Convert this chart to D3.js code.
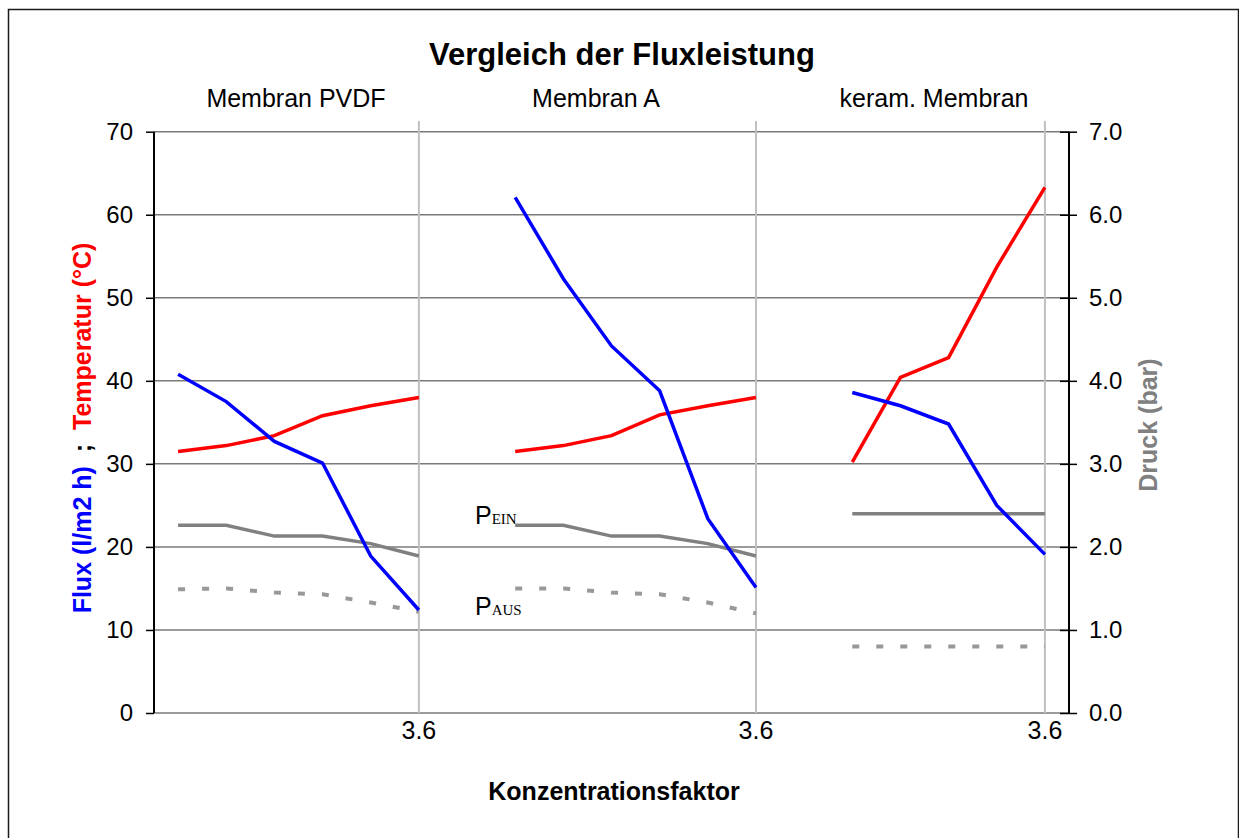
<!DOCTYPE html>
<html>
<head>
<meta charset="utf-8">
<script src="https://cdn.jsdelivr.net/npm/d3@7"></script>
<style>
  body { margin: 0; background: #fff; }
  text { font-family: Arial, "Liberation Sans", sans-serif; }
</style>
</head>
<body>
<div id="chart-area"></div>
<script>
// categories: 19 slots, empty slot between the three membranes
var categories = ["", "", "", "", "", "3.6", "",
                  "", "", "", "", "", "3.6", "",
                  "", "", "", "", "3.6"];
var groupLabels = ["Membran PVDF", "Membran A", "keram. Membran"];

// left axis (Flux, Temperatur)
var fluxValues = [40.8, 37.5, 32.7, 30.1, 18.9, 12.4, null,
                  62.1, 52.3, 44.2, 38.8, 23.4, 15.1, null,
                  38.6, 37.0, 34.8, 25.0, 19.1];
var tempValues = [31.5, 32.2, 33.4, 35.8, 37.0, 38.0, null,
                  31.5, 32.2, 33.4, 35.9, 37.0, 38.0, null,
                  30.2, 40.4, 42.8, 53.7, 63.3];
// right axis (Druck, bar)
var pEinValues = [2.26, 2.26, 2.13, 2.13, 2.04, 1.89, null,
                  2.26, 2.26, 2.13, 2.13, 2.04, 1.89, null,
                  2.4, 2.4, 2.4, 2.4, 2.4];
var pAusValues = [1.49, 1.50, 1.45, 1.43, 1.33, 1.22, null,
                  1.50, 1.50, 1.45, 1.43, 1.33, 1.20, null,
                  0.8, 0.8, 0.8, 0.8, 0.8];

var leftTicks = [0, 10, 20, 30, 40, 50, 60, 70];
var rightTicks = [0, 1, 2, 3, 4, 5, 6, 7];

var W = 1239, H = 838;
var plot = {left: 154, right: 1069, top: 131.7, bottom: 713};

var svg = d3.select("#chart-area")
    .append("svg")
        .attr("width", W)
        .attr("height", H);

// outer frame
svg.append("rect")
    .attr("x", 8.5)
    .attr("y", 9.5)
    .attr("width", 1230)
    .attr("height", 840)
    .attr("fill", "none")
    .attr("stroke", "#1a1a1a")
    .attr("stroke-width", 1.5);

var x = d3.scaleBand()
    .domain(d3.range(categories.length))
    .range([plot.left, plot.right])
    .padding(0);

var y = d3.scaleLinear()
    .domain([0, 70])
    .range([plot.bottom, plot.top]);

var y2 = d3.scaleLinear()
    .domain([0, 7])
    .range([plot.bottom, plot.top]);

var cx = function(i) { return x(i) + x.bandwidth() / 2; };

// horizontal grid
svg.append("g")
    .selectAll("line")
    .data(leftTicks)
    .enter()
    .append("line")
        .attr("x1", plot.left)
        .attr("x2", plot.right)
        .attr("y1", (d) => y(d))
        .attr("y2", (d) => y(d))
        .attr("stroke", "#7a7a7a")
        .attr("stroke-width", 1.5);

// vertical lines at the labelled categories
var labelled = d3.range(categories.length).filter((i) => categories[i] !== "");
svg.append("g")
    .selectAll("line")
    .data(labelled)
    .enter()
    .append("line")
        .attr("x1", (d) => cx(d))
        .attr("x2", (d) => cx(d))
        .attr("y1", 121)
        .attr("y2", plot.bottom)
        .attr("stroke", "#c0c0c0")
        .attr("stroke-width", 2);

// left axis
var yAxisCall = d3.axisLeft(y)
    .tickValues(leftTicks)
    .tickSize(8)
    .tickPadding(13)
    .tickFormat(d3.format("d"));

var yAxis = svg.append("g")
    .attr("class", "y axis")
    .attr("transform", "translate(" + plot.left + ",0)")
    .call(yAxisCall);

yAxis.select(".domain").attr("stroke", "#000").attr("stroke-width", 2)
    .attr("d", "M0," + plot.top + "V" + plot.bottom);
yAxis.selectAll(".tick line").attr("stroke", "#000").attr("stroke-width", 1.5);
yAxis.selectAll(".tick text")
    .attr("font-size", "24px")
    .attr("font-family", "Arial, 'Liberation Sans', sans-serif")
    .attr("fill", "#000");

// right axis
var y2AxisCall = d3.axisRight(y2)
    .tickValues(rightTicks)
    .tickSize(8)
    .tickPadding(12)
    .tickFormat(d3.format(".1f"));

var y2Axis = svg.append("g")
    .attr("class", "y2 axis")
    .attr("transform", "translate(" + plot.right + ",0)")
    .call(y2AxisCall);

y2Axis.select(".domain").attr("stroke", "#000").attr("stroke-width", 2)
    .attr("d", "M0," + plot.top + "V" + plot.bottom);
y2Axis.selectAll(".tick line")
    .attr("x1", -9)
    .attr("x2", 8)
    .attr("stroke", "#000")
    .attr("stroke-width", 1.5);
y2Axis.selectAll(".tick text")
    .attr("x", 20)
    .attr("font-size", "24px")
    .attr("font-family", "Arial, 'Liberation Sans', sans-serif")
    .attr("fill", "#000");

// x axis labels
var xAxisCall = d3.axisBottom(x)
    .tickSize(0)
    .tickPadding(8)
    .tickFormat((d) => categories[d]);

var xAxis = svg.append("g")
    .attr("class", "x axis")
    .attr("transform", "translate(0," + plot.bottom + ")")
    .call(xAxisCall);

xAxis.select(".domain").remove();
xAxis.selectAll(".tick text")
    .attr("font-size", "25px")
    .attr("font-family", "Arial, 'Liberation Sans', sans-serif")
    .attr("fill", "#000");

// lines
var lineLeft = d3.line()
    .defined((d) => d.v !== null)
    .x((d) => cx(d.i))
    .y((d) => y(d.v));

var lineRight = d3.line()
    .defined((d) => d.v !== null)
    .x((d) => cx(d.i))
    .y((d) => y2(d.v));

var toPts = function(arr) {
    return arr.map((v, i) => ({i: i, v: v}));
};

svg.append("path")
    .datum(toPts(pAusValues))
    .attr("d", lineRight)
    .attr("fill", "none")
    .attr("stroke", "#999999")
    .attr("stroke-width", 4)
    .attr("stroke-dasharray", "7,17");

svg.append("path")
    .datum(toPts(pEinValues))
    .attr("d", lineRight)
    .attr("fill", "none")
    .attr("stroke", "#808080")
    .attr("stroke-width", 3.5);

svg.append("path")
    .datum(toPts(tempValues))
    .attr("d", lineLeft)
    .attr("fill", "none")
    .attr("stroke", "#ff0000")
    .attr("stroke-width", 3.5);

svg.append("path")
    .datum(toPts(fluxValues))
    .attr("d", lineLeft)
    .attr("fill", "none")
    .attr("stroke", "#0000ff")
    .attr("stroke-width", 3.5);

// P_EIN / P_AUS labels
var pLabels = [{main: "P", sub: "EIN", y: 524}, {main: "P", sub: "AUS", y: 615}];
pLabels.forEach((p) => {
    var t = svg.append("text")
        .attr("x", 475)
        .attr("y", p.y)
        .attr("font-size", "25px")
        .attr("fill", "#000");
    t.append("tspan").text(p.main);
    t.append("tspan")
        .attr("font-family", "'Liberation Serif', 'Times New Roman', serif")
        .attr("font-size", "15px")
        .text(p.sub);
});

// title
svg.append("text")
    .attr("x", 622)
    .attr("y", 65)
    .attr("font-size", "31px")
    .attr("font-weight", "bold")
    .attr("text-anchor", "middle")
    .text("Vergleich der Fluxleistung");

// group labels
var groupX = [296, 596, 934];
svg.append("g")
    .selectAll("text")
    .data(groupLabels)
    .enter()
    .append("text")
        .attr("x", (d, i) => groupX[i])
        .attr("y", 107)
        .attr("font-size", "25px")
        .attr("text-anchor", "middle")
        .text((d) => d);

// X label
svg.append("text")
    .attr("x", 614)
    .attr("y", 800)
    .attr("font-size", "25px")
    .attr("font-weight", "bold")
    .attr("text-anchor", "middle")
    .text("Konzentrationsfaktor");

// Y label left
var yl = svg.append("text")
    .attr("transform", "translate(91,428) rotate(-90)")
    .attr("font-size", "25px")
    .attr("font-weight", "bold")
    .attr("text-anchor", "middle")
    .attr("xml:space", "preserve");
yl.append("tspan").attr("fill", "#0000ff").text("Flux (l/m2 h)");
yl.append("tspan").attr("fill", "#000").text("  ;  ");
yl.append("tspan").attr("fill", "#ff0000").text("Temperatur (°C)");

// Y label right
svg.append("text")
    .attr("transform", "translate(1157,425) rotate(-90)")
    .attr("font-size", "25px")
    .attr("font-weight", "bold")
    .attr("fill", "#808080")
    .attr("text-anchor", "middle")
    .text("Druck (bar)");
</script>
</body>
</html>
